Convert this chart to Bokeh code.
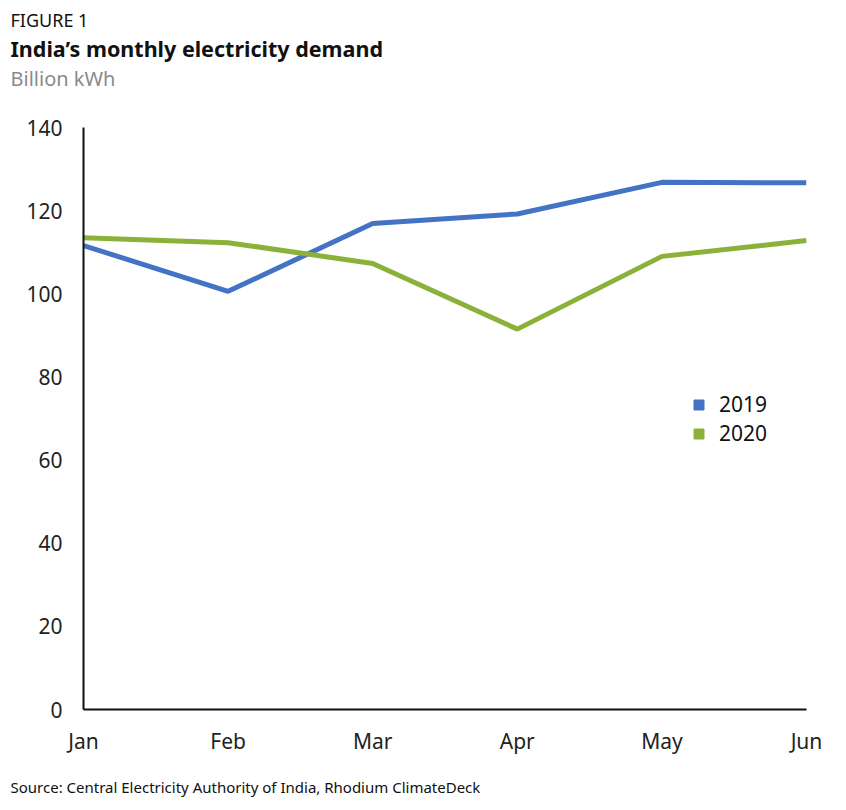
from bokeh.plotting import figure
from bokeh.models import Range1d, FixedTicker, Title, Legend, LegendItem, ColumnDataSource
from bokeh.embed import file_html
from bokeh.resources import INLINE

months = ["Jan", "Feb", "Mar", "Apr", "May", "Jun"]
demand_2019 = [111.6, 100.6, 116.9, 119.2, 126.8, 126.7]
demand_2020 = [113.5, 112.3, 107.3, 91.5, 109.0, 112.8]
y_ticks = [0, 20, 40, 60, 80, 100, 120, 140]

FONT = "Noto Sans"
BLUE = "#4472C4"
GREEN = "#8BB13A"

x = list(range(len(months)))

FL, FT, FW, FH = 83, 127, 723, 582
W, H = 846, 802

p = figure(width=W, height=H, frame_width=FW, frame_height=FH, title=None,
           min_border_left=FL, min_border_right=W - FL - FW, min_border_top=FT,
           min_border_bottom=H - FT - FH,
           x_range=Range1d(0, len(months) - 1), y_range=Range1d(0, 140),
           output_backend="svg", toolbar_location=None, tools="")
p.outline_line_color = None
p.xgrid.grid_line_color = None
p.ygrid.grid_line_color = None
p.background_fill_color = "white"
p.border_fill_color = "white"

r19 = p.line(x, demand_2019, line_color=BLUE, line_width=5)
r20 = p.line(x, demand_2020, line_color=GREEN, line_width=5)

for ax in (p.xaxis[0], p.yaxis[0]):
    ax.axis_line_color = "#111111"
    ax.axis_line_width = 2
    ax.major_tick_line_color = None
    ax.minor_tick_line_color = None
    ax.major_tick_out = 0
    ax.major_tick_in = 0
    ax.major_label_text_font = FONT
    ax.major_label_text_font_size = "21px"
    ax.major_label_text_color = "#222222"

p.xaxis.ticker = FixedTicker(ticks=x)
p.xaxis.major_label_overrides = {i: m for i, m in enumerate(months)}
p.xaxis.major_label_standoff = 17
p.yaxis.ticker = FixedTicker(ticks=y_ticks)
p.yaxis.major_label_standoff = 21

# legend squares (sources with no drawable point, shown only in the legend)
nan = float("nan")
e = ColumnDataSource(data=dict(x=[nan], y=[nan]))
s19 = p.scatter("x", "y", source=e, marker="square", size=10, fill_color=BLUE, line_color=BLUE)
s20 = p.scatter("x", "y", source=e, marker="square", size=10, fill_color=GREEN, line_color=GREEN)
legend = Legend(items=[LegendItem(label="2019", renderers=[s19]),
                       LegendItem(label="2020", renderers=[s20])],
                location=(603, 262), border_line_color=None, background_fill_alpha=0,
                glyph_width=25, glyph_height=25, label_text_font=FONT,
                label_text_font_size="21px", label_text_color="#111111",
                spacing=1, label_standoff=8, padding=0, margin=0)
p.add_layout(legend, "center")

def add_title(text, loc, size, style, color, standoff):
    p.add_layout(Title(text=text, align="left", offset=10 - FL, text_font=FONT,
                       text_font_size=size, text_font_style=style, text_color=color,
                       standoff=standoff), loc)

add_title(" ", "above", "10px", "normal", "#FFFFFF", 19.1)   # spacer above the frame
add_title("Billion kWh", "above", "20px", "normal", "#8A8A8A", 0.8)
add_title("India\u2019s monthly electricity demand", "above", "21.5px", "bold", "#111111", -1.3)
add_title("FIGURE 1", "above", "18px", "normal", "#111111", 0.5)
add_title("Source: Central Electricity Authority of India, Rhodium ClimateDeck", "below", "15px", "normal", "#111111", 34)

open("out.html", "w").write(file_html(p, INLINE))
